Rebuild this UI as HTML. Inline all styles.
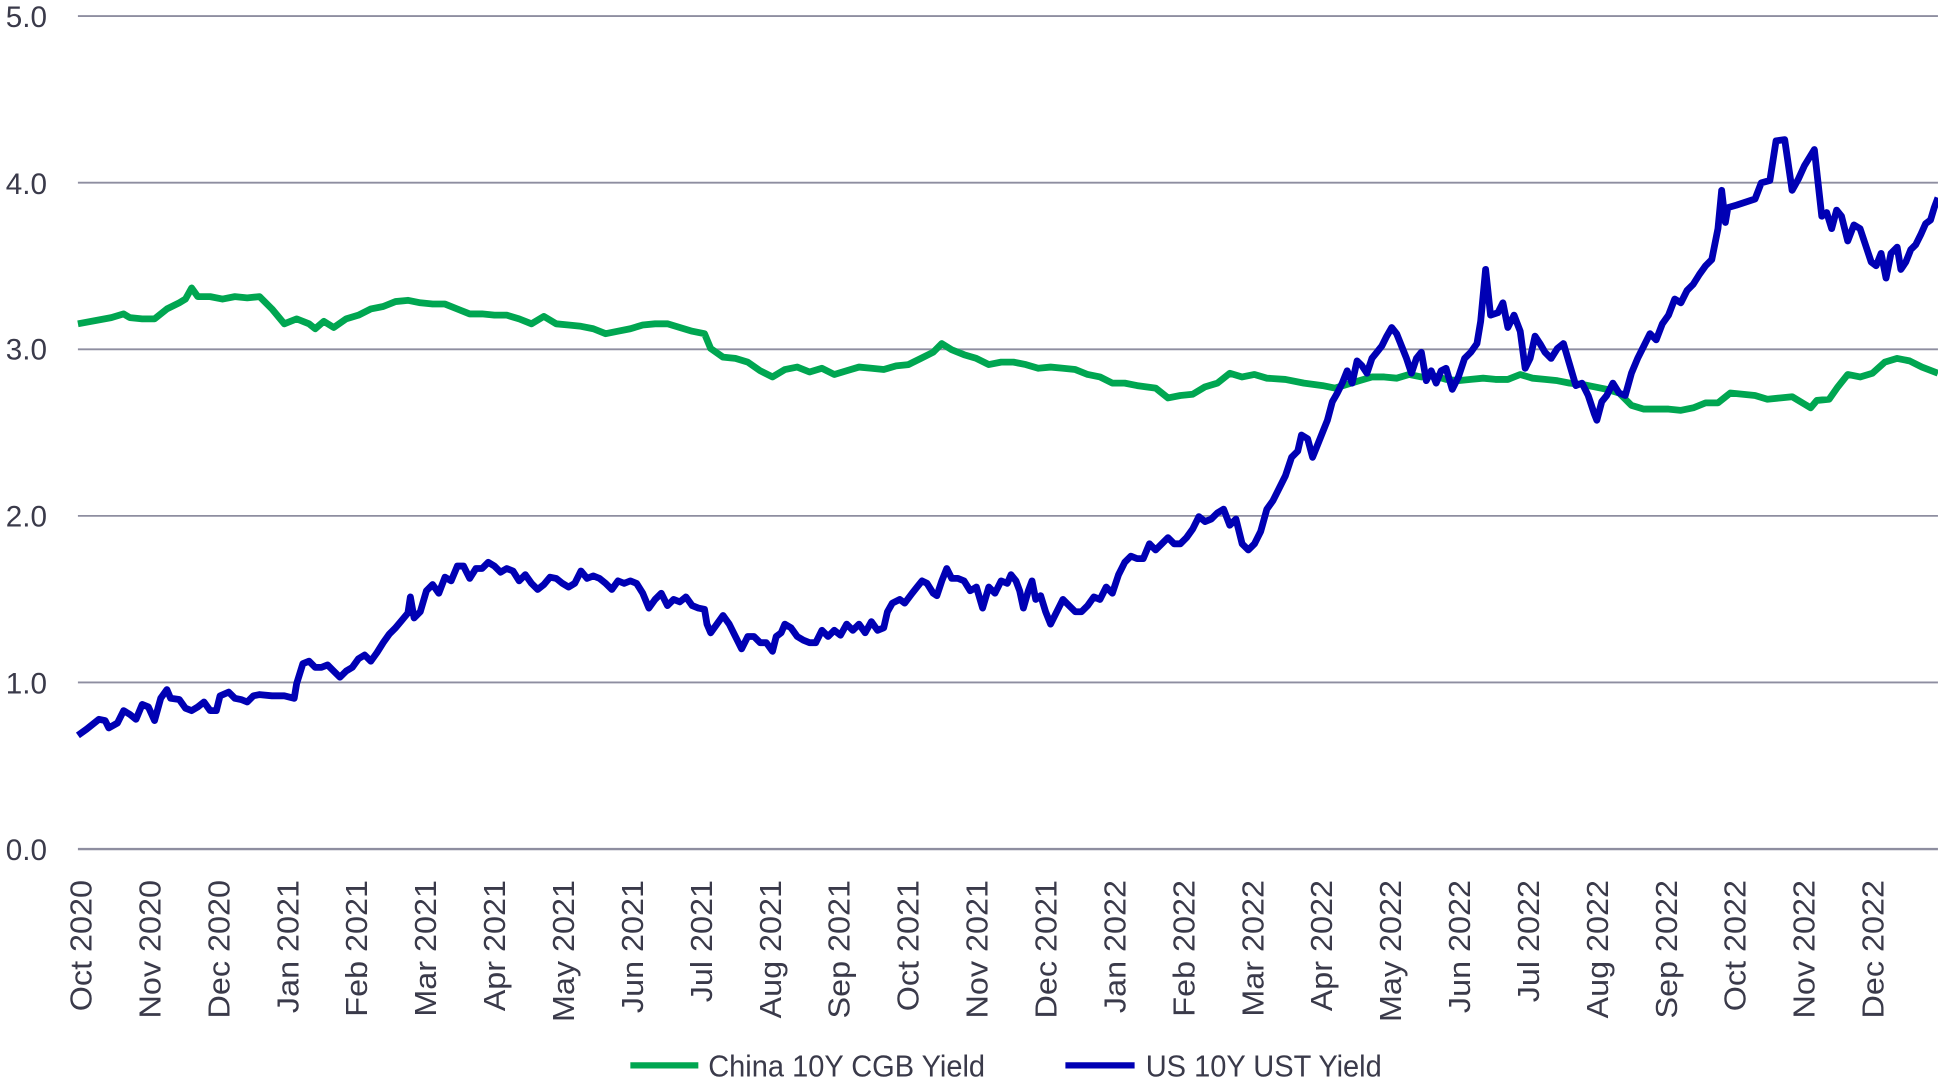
<!DOCTYPE html>
<html><head><meta charset="utf-8"><style>
html,body{margin:0;padding:0;background:#fff;}
svg{display:block;}
text{font-family:"Liberation Sans",sans-serif;}
</style></head><body>
<svg width="1938" height="1085" viewBox="0 0 1568 877.9" xmlns="http://www.w3.org/2000/svg">
<g stroke="#8e8ea0" stroke-width="1.5">
<line x1="63" y1="13" x2="1568" y2="13"/>
<line x1="63" y1="147.8" x2="1568" y2="147.8"/>
<line x1="63" y1="282.6" x2="1568" y2="282.6"/>
<line x1="63" y1="417.4" x2="1568" y2="417.4"/>
<line x1="63" y1="552.2" x2="1568" y2="552.2"/>
<line x1="63" y1="687" x2="1568" y2="687" stroke-width="2"/>
</g>
<g fill="#3a3a4a" font-size="24" text-anchor="end">
<text x="38" y="22">5.0</text>
<text x="38" y="157">4.0</text>
<text x="38" y="291">3.0</text>
<text x="38" y="426">2.0</text>
<text x="38" y="561">1.0</text>
<text x="38" y="696">0.0</text>
</g>
<g fill="#3a3a4a" text-anchor="end" id="xl"></g>
<polyline fill="none" stroke="#00a651" stroke-width="5.5" stroke-linejoin="round" points="63,262 90,257 100,254 105,257 115,258 125,258 135,250 145,245 150,242 155,233 160,240 170,240 180,242 190,240 200,241 210,240 220,250 230,262 240,258 250,262 255,266 262,260 270,265 280,258 290,255 300,250 310,248 320,244 330,243 340,245 350,246 360,246 370,250 380,254 390,254 400,255 410,255 420,258 430,262 440,256 450,262 460,263 470,264 480,266 490,270 500,268 510,266 520,263 530,262 540,262 550,265 560,268 570,270 575,282 585,289 595,290 605,293 615,300 625,305 635,299 645,297 655,301 665,298 675,303 685,300 695,297 705,298 715,299 725,296 735,295 745,290 755,285 762,278 770,283 780,287 790,290 800,295 810,293 820,293 830,295 840,298 850,297 860,298 870,299 880,303 890,305 900,310 910,310 920,312 935,314 945,322 955,320 965,319 975,313 985,310 995,302 1005,305 1015,303 1025,306 1040,307 1055,310 1070,312 1080,314 1090,311 1100,308 1110,305 1120,305 1130,306 1140,303 1150,305 1160,304 1170,307 1180,308 1190,307 1200,306 1210,307 1220,307 1230,303 1240,306 1250,307 1260,308 1270,310 1280,311 1290,313 1300,315 1310,318 1320,328 1330,331 1340,331 1350,331 1360,332 1370,330 1380,326 1390,326 1395,322 1400,318 1420,320 1430,323 1440,322 1450,321 1460,327 1465,330 1470,324 1480,323 1487,313 1495,303 1505,305 1515,302 1525,293 1535,290 1545,292 1555,297 1568,302"/>
<polyline fill="none" stroke="#0000b4" stroke-width="5.5" stroke-linejoin="round" points="63,595 70,590 80,582 85,583 88,589 95,585 100,575 105,578 110,582 115,570 120,572 125,583 130,565 135,558 138,565 145,566 150,573 155,575 160,572 165,568 170,575 175,575 178,563 185,560 190,565 195,566 200,568 205,563 210,562 220,563 230,563 238,565 240,553 245,537 250,535 255,540 260,540 265,538 270,543 275,548 280,543 285,540 290,533 295,530 300,535 305,528 310,520 315,513 320,508 325,502 330,496 332,483 335,500 340,495 345,478 350,473 355,480 360,467 365,470 370,458 375,458 380,468 385,460 390,460 395,455 400,458 405,463 410,460 415,462 420,470 425,465 430,472 435,477 440,473 445,467 450,468 455,472 460,475 465,472 470,462 475,468 480,466 485,468 490,472 495,477 500,470 505,472 510,470 515,472 520,480 525,492 530,485 535,480 540,490 545,485 550,487 555,483 560,490 565,492 570,493 572,505 575,512 580,505 585,498 590,505 595,515 600,525 605,515 610,515 615,520 620,520 625,527 628,515 632,512 635,505 640,508 645,515 650,518 655,520 660,520 665,510 670,515 675,510 680,514 685,505 690,510 695,505 700,512 705,503 710,510 715,508 718,495 722,488 728,485 732,488 738,480 742,475 746,470 750,472 755,480 758,482 762,470 766,460 770,468 775,468 780,470 785,478 790,475 795,492 800,475 805,480 810,470 815,472 818,465 822,470 825,478 828,492 832,478 835,470 838,485 842,482 846,495 850,505 855,495 860,485 865,490 870,495 875,495 880,490 885,483 890,485 895,475 900,480 905,465 910,455 915,450 920,452 925,452 930,440 935,445 940,440 945,435 950,440 955,440 960,435 965,428 970,418 975,422 980,420 985,415 990,412 995,425 1000,420 1005,440 1010,445 1015,440 1020,430 1025,412 1030,405 1035,395 1040,385 1045,370 1050,365 1053,352 1058,355 1062,370 1066,360 1070,350 1074,340 1078,325 1082,318 1086,310 1090,300 1094,310 1098,292 1102,296 1106,302 1110,290 1114,285 1118,280 1122,272 1126,265 1130,270 1134,280 1138,290 1142,302 1146,290 1150,285 1154,308 1158,300 1162,310 1166,300 1170,298 1175,315 1180,305 1185,290 1190,285 1195,278 1198,260 1202,218 1206,255 1212,253 1216,245 1220,265 1225,255 1230,268 1234,298 1238,290 1242,272 1246,278 1250,285 1255,290 1260,282 1265,278 1270,295 1275,312 1280,310 1285,320 1290,335 1292,340 1296,325 1300,320 1305,310 1310,318 1315,320 1320,302 1325,290 1330,280 1335,270 1340,275 1345,262 1350,255 1355,242 1360,245 1365,235 1370,230 1375,222 1380,215 1385,210 1390,185 1393,154 1396,180 1398,168 1405,166 1420,161 1425,148 1432,146 1437,114 1444,113 1450,154 1455,145 1460,134 1468,121 1474,175 1478,172 1482,185 1486,170 1490,175 1495,195 1500,182 1505,185 1510,200 1514,212 1518,215 1522,205 1526,225 1530,205 1535,200 1538,218 1542,212 1546,202 1550,198 1554,190 1558,181 1562,178 1565,168 1568,160"/>
<line x1="510" y1="862" x2="565" y2="862" stroke="#00a651" stroke-width="5"/>
<text x="573" y="871" font-size="25" fill="#3a3a4a" textLength="224" lengthAdjust="spacingAndGlyphs">China 10Y CGB Yield</text>
<line x1="862" y1="862" x2="918" y2="862" stroke="#0000b4" stroke-width="5"/>
<text x="927" y="871" font-size="25" fill="#3a3a4a" textLength="191" lengthAdjust="spacingAndGlyphs">US 10Y UST Yield</text>
</svg>
<script>
var m=["Oct","Nov","Dec","Jan","Feb","Mar","Apr","May","Jun","Jul","Aug","Sep"];
var g=document.getElementById("xl"),s="";
for(var i=0;i<27;i++){var mo=m[i%12],yr=2020+Math.floor((i+9)/12);var x=65+55.77*i+9;
s+='<text transform="translate('+x+',712) rotate(-90) scale(0.97,0.92)" font-size="27">'+mo+' '+yr+'</text>';}
g.innerHTML=s;
</script>
</body></html>
